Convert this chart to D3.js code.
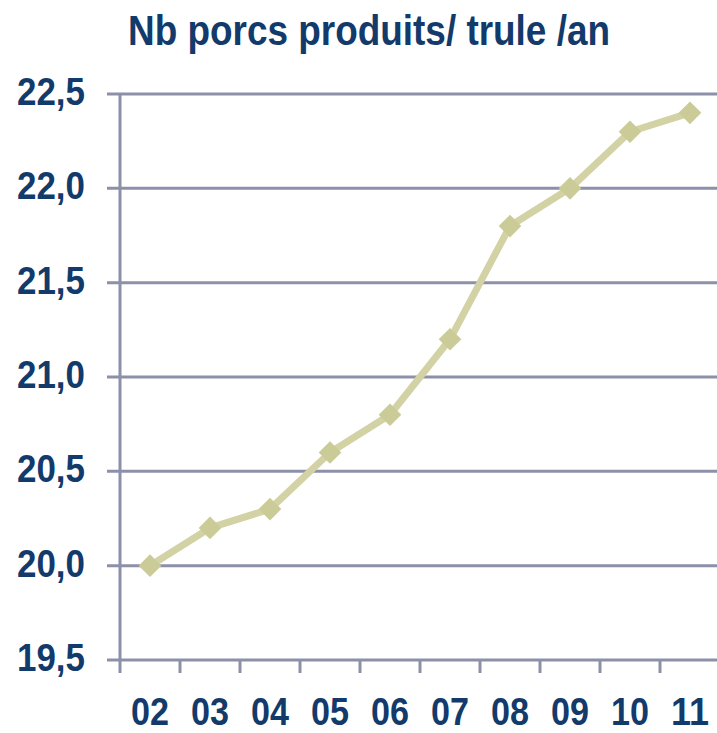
<!doctype html>
<html lang="fr">
<head>
<meta charset="utf-8">
<title>Nb porcs produits</title>
<style>
  body { margin: 0; background: #fff; }
  text { font-family: "Liberation Sans", Arial, sans-serif; font-weight: bold; fill: #123a6b; }
  .grid line { stroke: #8c90a8; stroke-width: 3; }
</style>
</head>
<body>
<div class="chart"></div>
<script src="https://d3js.org/d3.v7.min.js"></script>
<script>
const years = ['02', '03', '04', '05', '06', '07', '08', '09', '10', '11'];
const values = [20.0, 20.2, 20.3, 20.6, 20.8, 21.2, 21.8, 22.0, 22.3, 22.4];
const yTicks = [19.5, 20.0, 20.5, 21.0, 21.5, 22.0, 22.5];
const title = 'Nb porcs produits/ trule /an';

const W = 717, H = 733;
const plot = {left: 120, right: 720, top: 94, bottom: 660};

const svg = d3.select('.chart').append('svg')
    .attr('width', W)
    .attr('height', H);

const x = d3.scaleBand().domain(years).range([plot.left, plot.right]);
const y = d3.scaleLinear().domain([19.5, 22.5]).range([plot.bottom, plot.top]);

// title
svg.append('text')
    .attr('x', 128)
    .attr('y', 45)
    .attr('font-size', 42)
    .attr('textLength', 482)
    .attr('lengthAdjust', 'spacingAndGlyphs')
    .text(title);

// horizontal grid
const grid = svg.append('g').attr('class', 'grid');
grid.selectAll('.h')
  .data(yTicks)
  .join('line')
    .attr('x1', 107).attr('x2', W)
    .attr('y1', d => y(d)).attr('y2', d => y(d));

// y axis line and x ticks
grid.append('line')
    .attr('x1', plot.left).attr('x2', plot.left)
    .attr('y1', plot.top).attr('y2', plot.bottom + 13);
grid.selectAll('.xt')
  .data(years.slice(1))
  .join('line')
    .attr('x1', d => x(d)).attr('x2', d => x(d))
    .attr('y1', plot.bottom).attr('y2', plot.bottom + 13);

// y labels
svg.selectAll('.yl')
  .data(yTicks)
  .join('text')
    .attr('x', 85)
    .attr('y', d => y(d) + 11)
    .attr('text-anchor', 'end')
    .attr('font-size', 38)
    .attr('textLength', 68)
    .attr('lengthAdjust', 'spacingAndGlyphs')
    .text(d => d3.format('.1f')(d).replace('.', ','));

// x labels
svg.selectAll('.xl')
  .data(years)
  .join('text')
    .attr('x', d => x(d) + x.bandwidth() / 2)
    .attr('y', 725)
    .attr('text-anchor', 'middle')
    .attr('font-size', 38)
    .attr('textLength', 38)
    .attr('lengthAdjust', 'spacingAndGlyphs')
    .text(d => d);

const pts = years.map((d, i) => [x(d) + x.bandwidth() / 2, y(values[i])]);

svg.append('path')
    .attr('d', d3.line()(pts))
    .attr('fill', 'none')
    .attr('stroke', '#d2d2a4')
    .attr('stroke-width', 7)
    .attr('stroke-linejoin', 'round');

svg.selectAll('.mk')
  .data(pts)
  .join('path')
    .attr('transform', d => `translate(${d[0]},${d[1]}) rotate(45)`)
    .attr('d', 'M-8,-8H8V8H-8Z')
    .attr('fill', '#cbcb98');
</script>
</body>
</html>
